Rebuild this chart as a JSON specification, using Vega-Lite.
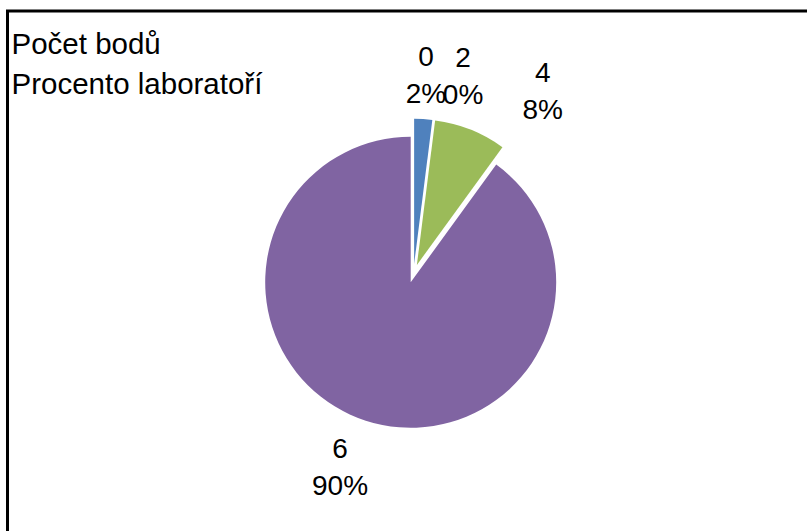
{
  "$schema": "https://vega.github.io/schema/vega-lite/v6.json",
  "width": 812,
  "height": 525,
  "autosize": {"type": "none"},
  "padding": {"left": 7.5, "top": 11, "right": 0, "bottom": 0},
  "background": "white",
  "view": {"stroke": "black", "strokeWidth": 3, "fill": "white"},
  "config": {
    "view": {"stroke": "black", "strokeWidth": 3},
    "font": "Liberation Sans",
    "text": {"font": "Liberation Sans"}
  },
  "title": {
    "text": ["Počet bodů", "Procento laboratoří"],
    "anchor": "start",
    "frame": "group",
    "orient": "top",
    "baseline": "top",
    "offset": 0,
    "dy": 89,
    "dx": 4,
    "font": "Liberation Sans",
    "fontSize": 29.5,
    "fontWeight": "normal",
    "lineHeight": 40,
    "color": "black"
  },
  "data": {
    "values": [
      {"points": "0", "pct": 2},
      {"points": "2", "pct": 0},
      {"points": "4", "pct": 8},
      {"points": "6", "pct": 90}
    ]
  },
  "transform": [
    {"calculate": "datum.points + '\\n' + datum.pct + '%'", "as": "label"}
  ],
  "encoding": {
    "theta": {"field": "pct", "type": "quantitative", "stack": true},
    "order": {"field": "points", "type": "ordinal"}
  },
  "layer": [
    {
      "mark": {"type": "arc", "outerRadius": 145.5, "xOffset": -2.8, "yOffset": 8.8},
      "encoding": {
        "color": {"field": "points", "type": "nominal", "scale": {"domain": ["0", "2", "4", "6"], "range": ["#4F81BD", "#C0504D", "#9BBB59", "#8064A2"]}, "legend": null},
        "opacity": {"condition": {"test": "datum.points === '6'", "value": 1}, "value": 0}
      }
    },
    {
      "mark": {"type": "arc", "outerRadius": 145.5, "xOffset": 0.6, "yOffset": -9.2},
      "encoding": {
        "color": {"field": "points", "type": "nominal", "legend": null},
        "opacity": {"condition": {"test": "datum.points === '0' || datum.points === '2'", "value": 1}, "value": 0}
      }
    },
    {
      "mark": {"type": "arc", "outerRadius": 145.5, "xOffset": 3.4, "yOffset": -8.6},
      "encoding": {
        "color": {"field": "points", "type": "nominal", "legend": null},
        "opacity": {"condition": {"test": "datum.points === '4'", "value": 1}, "value": 0}
      }
    },
    {
      "mark": {"type": "text", "radius": 199, "dy": -17, "fontSize": 28, "lineBreak": "\n", "lineHeight": 37, "align": "center", "baseline": "middle", "color": "black"},
      "encoding": {
        "detail": {"field": "points", "type": "nominal"},
        "text": {"condition": {"test": "datum.points === '0'", "field": "label"}, "value": ""}
      }
    },
    {
      "mark": {"type": "text", "radius": 199, "dx": 24.6, "dy": -17, "fontSize": 28, "lineBreak": "\n", "lineHeight": 37, "align": "center", "baseline": "middle", "color": "black"},
      "encoding": {
        "detail": {"field": "points", "type": "nominal"},
        "text": {"condition": {"test": "datum.points === '2'", "field": "label"}, "value": ""}
      }
    },
    {
      "mark": {"type": "text", "radius": 199, "dx": 56, "dy": -14, "fontSize": 28, "lineBreak": "\n", "lineHeight": 37, "align": "center", "baseline": "middle", "color": "black"},
      "encoding": {
        "detail": {"field": "points", "type": "nominal"},
        "text": {"condition": {"test": "datum.points === '4'", "field": "label"}, "value": ""}
      }
    },
    {
      "mark": {"type": "text", "radius": 199, "dx": -12, "dy": -13, "fontSize": 28, "lineBreak": "\n", "lineHeight": 37, "align": "center", "baseline": "middle", "color": "black"},
      "encoding": {
        "detail": {"field": "points", "type": "nominal"},
        "text": {"condition": {"test": "datum.points === '6'", "field": "label"}, "value": ""}
      }
    }
  ]
}
